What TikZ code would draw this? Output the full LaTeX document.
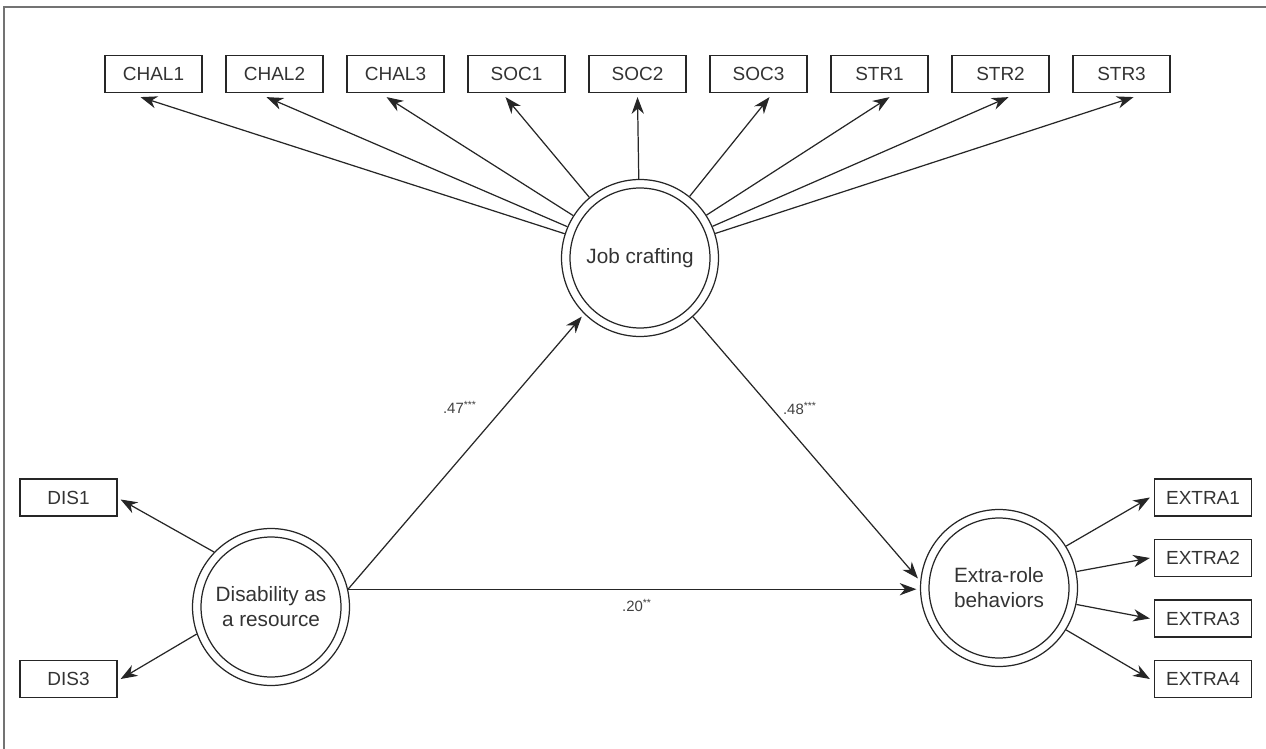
\documentclass[tikz,border=0pt]{standalone}
\usepackage{fontspec}
\setmainfont{Liberation Sans}
\usetikzlibrary{arrows.meta,calc}

\begin{document}
\begin{tikzpicture}[x=0.02cm, y=-0.02cm,
    indicator/.style={rectangle, draw=black!85, line width=0.7pt, minimum width=1.94cm, minimum height=0.74cm, inner sep=0pt, text=black!80, font=\fontsize{10.8}{12}\selectfont},
    latent/.style={circle, draw=black!85, line width=0.7pt, minimum size=3.14cm, inner sep=0pt, align=center, text=black!80, font=\fontsize{11.8}{14.2}\selectfont},
    coef/.style={text=black!75, inner sep=0pt, font=\fontsize{8.5}{10}\selectfont},
    arrow/.style={-{Stealth[length=9.5pt, width=7pt, inset=3pt]}, line width=0.7pt, draw=black!85}
]
\useasboundingbox (0,0) rectangle (1266,749);

% Frame
\draw[black!55, line width=1pt] (4,749) -- (4,7) -- (1266,7);

% Latent variables
\node[latent] (job) at (640,258) {Job crafting};
\node[latent] (dis) at (271,607) {Disability as\\a resource};
\node[latent] (extra) at (999,588) {Extra-role\\behaviors};
\foreach \n in {job,dis,extra}
    \draw[black!85, line width=0.7pt] (\n.center) circle (1.40cm);

% Job crafting indicators
\foreach \name/\txt [count=\i from 0] in {chal1/CHAL1, chal2/CHAL2, chal3/CHAL3, soc1/SOC1, soc2/SOC2, soc3/SOC3, str1/STR1, str2/STR2, str3/STR3}
    \node[indicator] (\name) at ({153.5+121*\i},74) {\txt};

% Disability indicators
\node[indicator] (dis1) at (68.5,497.5) {DIS1};
\node[indicator] (dis3) at (68.5,679) {DIS3};

% Extra-role indicators
\foreach \k in {1,...,4}
    \node[indicator] (extra\k) at ({1203},{497.5+60.5*(\k-1)}) {EXTRA\k};

% Loadings
\foreach \name/\dx in {chal1/-13, chal2/-8, chal3/-9, soc1/-11, soc2/0, soc3/11, str1/10, str2/8, str3/12}
    \draw[arrow] (job) -- ($(\name.south)+(\dx,4)$);

\draw[arrow] (dis.136) -- ($(dis1.east)+(3,2)$);
\draw[arrow] (dis.200) -- ($(dis3.east)+(3,0)$);

\draw[arrow] (extra.32) -- ($(extra1.west)+(-4,0)$);
\draw[arrow] (extra.12) -- ($(extra2.west)+(-4,0)$);
\draw[arrow] (extra.-12) -- ($(extra3.west)+(-4,0)$);
\draw[arrow] (extra.-32) -- ($(extra4.west)+(-4,0)$);

% Structural paths
\draw[arrow, shorten >=2pt] (dis.13) -- (job.225);
\draw[arrow, shorten >=2pt] (job.-48) -- (extra.175);
\draw[arrow, shorten >=2pt] (dis.13) -- (dis.13 -| extra.west);

% Coefficients
\node[coef] (b47) at (460,407) {.47\textsuperscript{***}};
\node[coef] (b48) at (800,408) {.48\textsuperscript{***}};
\node[coef] (b20) at (637,605) {.20\textsuperscript{**}};

\end{tikzpicture}
\end{document}
